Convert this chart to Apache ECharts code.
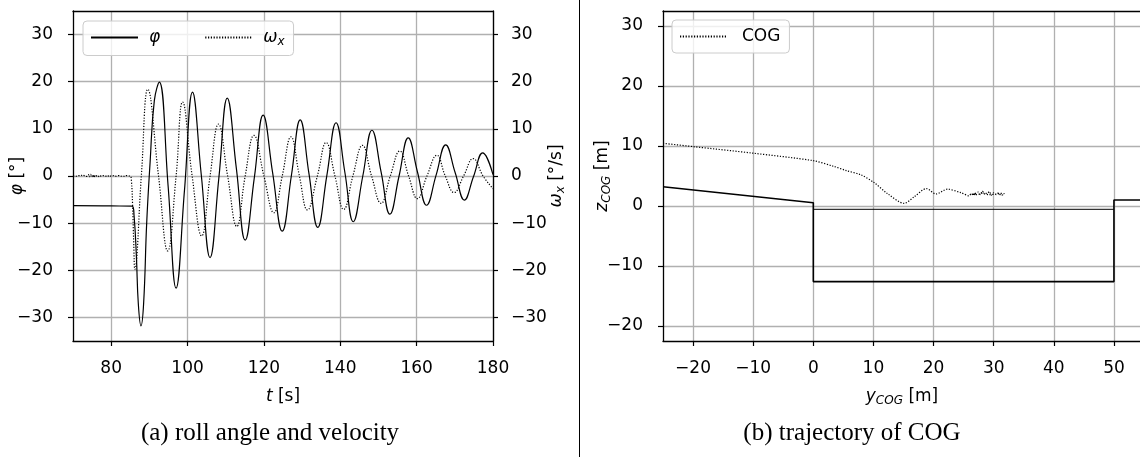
<!DOCTYPE html>
<html><head><meta charset="utf-8">
<script src="https://cdn.jsdelivr.net/npm/echarts@6/dist/echarts.min.js"></script>
<style>html,body{margin:0;padding:0;background:#fff}#c{width:1140px;height:457px}</style>
</head><body><div id="c"></div>
<script>
// ---- left panel: roll angle phi and roll velocity omega_x over time ----
const phiT = [70, 80, 85.5, 86.0, 86.6, 87.1, 87.8, 88.5, 89.3, 90.2, 91.3, 92.6, 94.9, 97.0, 99.2, 101.3, 103.6, 105.9, 108.2, 110.4, 112.8, 115.1, 117.5, 119.8, 122.3, 124.8, 127.2, 129.5, 131.8, 134.1, 136.5, 138.9, 141.2, 143.4, 145.9, 148.3, 150.7, 153.0, 155.4, 157.8, 160.2, 162.6, 165.1, 167.6, 170.1, 172.5, 174.9, 177.3, 180];
const phiV = [-6.3, -6.35, -6.4, -8.5, -17, -27, -31.8, -27, -10, 3, 16, 19.9, -2, -23.8, -3, 17.8, 0.2, -17.3, -0.4, 16.5, 1.5, -13.6, -0.3, 12.9, 0.6, -11.7, 0.1, 11.9, 0.5, -10.9, 0.2, 11.3, 0.8, -9.7, 0, 9.7, 0.8, -8.1, 0, 8.1, 0.9, -6.2, 0.2, 6.6, 0.7, -5.1, -0.1, 4.9, 0.3];

const omegaT = [70, 70.5, 71, 71.5, 72, 72.5, 73, 73.5, 74, 74.3, 74.6, 74.9, 75.2, 75.5, 75.8, 76.1, 76.5, 77, 77.5, 78, 78.5, 79, 79.5, 80, 80.5, 81, 81.5, 82, 82.5, 83, 83.5, 84, 84.5, 85.0, 85.3, 85.6, 85.9, 86.2, 87.9, 89.6, 92.4, 94.8, 97.0, 98.7, 101.2, 103.7, 105.9, 108.1, 110.5, 112.9, 115.1, 117.4, 120.0, 122.6, 124.8, 127.1, 129.3, 131.4, 134.0, 136.3, 138.6, 140.9, 143.3, 145.8, 148.2, 150.7, 153.1, 155.6, 157.9, 160.2, 162.7, 165.3, 167.5, 169.8, 172.3, 174.8, 177.4, 180];
const omegaV = [0.0, 0.05, -0.05, 0.1, 0.0, 0.25, 0.05, -0.1, 0.3, -0.2, 0.35, -0.15, 0.25, -0.3, 0.2, 0.05, -0.2, 0.15, -0.1, 0.1, -0.05, 0.15, -0.15, 0.05, 0.1, -0.1, 0.05, 0.1, -0.05, 0.05, -0.1, 0.1, 0.0, 0.0, -1.0, -6, -14, -19.8, 0, 18.4, 0, -15.9, 0, 15.7, 0, -12.7, 0, 11.0, 0, -10.7, 0, 8.6, 0, -7.8, 0, 8.3, 0, -7.2, 0, 7.1, 0, -7.1, 0, 6.5, 0, -5.8, 0, 5.3, 0, -4.8, 0, 4.4, 0, -3.5, 0, 3.7, 0, -2.7];

const tTicks = [80, 100, 120, 140, 160, 180];
const angleTicks = [-30, -20, -10, 0, 10, 20, 30];

// ---- right panel: trajectory of COG and basin outline ----
const cogY = [-25, -20, -10, 0, 3.4, 5.5, 7.9, 10.1, 12.3, 15.1, 16.8, 18.8, 20.4, 22.3, 24.6, 25.9, 26.3, 26.6, 27.0, 26.8, 27.4, 27.8, 28.1, 28.5, 28.3, 28.9, 29.3, 29.6, 30.0, 30.4, 30.8, 31.2, 31.8, 31.3, 30.5, 29.2, 28.0, 27.2, 26.4];
const cogZ = [10.45, 9.9, 8.8, 7.55, 6.6, 5.9, 5.2, 3.9, 2.1, 0.45, 1.55, 2.9, 2.0, 2.8, 2.2, 1.7, 2.1, 1.8, 2.2, 1.9, 2.3, 1.9, 2.5, 1.9, 2.2, 2.1, 2.4, 1.8, 2.2, 1.9, 2.2, 1.8, 2.0, 2.1, 2.0, 1.9, 2.1, 1.9, 2.0];
const wallY = [-25, 0, 0, 50, 50, 60];
const wallZ = [3.2, 0.55, -12.6, -12.6, 1.0, 1.0];
const waterY = [0, 50];
const waterZ = [-0.55, -0.55];
const yTicks = [-20, -10, 0, 10, 20, 30, 40, 50];
const zTicks = [-20, -10, 0, 10, 20, 30];

const F = '"DejaVu Sans"';
const FS = 17;
const zip = (a, b) => a.map((v, i) => [v, b[i]]);
const fmt = v => (v < 0 ? '\u2212' + Math.abs(v) : String(v));
const rich = {
  i: {fontFamily: F, fontSize: FS, fontStyle: 'italic', color: '#000'},
  n: {fontFamily: F, fontSize: FS, color: '#000'},
  s: {fontFamily: F, fontSize: 12, fontStyle: 'italic', color: '#000', padding: [8, 0, 0, 0]}
};

function axis(o, ticks) {
  return Object.assign({
    type: 'value',
    nameMoveOverlap: false,
    axisLine: {show: true, onZero: false, lineStyle: {color: '#000', width: 1.3}},
    axisTick: {show: true, inside: false, length: 5, customValues: ticks, lineStyle: {color: '#000', width: 1.2}},
    axisLabel: {show: true, color: '#000', fontFamily: F, fontSize: FS, formatter: fmt, customValues: ticks, margin: 10},
    splitLine: {show: true, lineStyle: {color: '#b0b0b0', width: 1.3}},
    nameTextStyle: {fontFamily: F, fontSize: FS, color: '#000', rich: rich}
  }, o);
}
function spine(o) {
  return Object.assign({
    type: 'value', position: 'top',
    axisLine: {show: true, onZero: false, lineStyle: {color: '#000', width: 1.3}},
    axisTick: {show: false}, axisLabel: {show: false}, splitLine: {show: false}
  }, o);
}
function lbl(ticks, margin) {
  return {color: '#000', fontFamily: F, fontSize: FS, formatter: fmt, customValues: ticks, margin: margin};
}

const dotted = [1.2, 1.6];
const legendCommon = {
  orient: 'horizontal', itemWidth: 47, itemHeight: 2,
  backgroundColor: 'rgba(255,255,255,0.8)', borderColor: '#cccccc', borderWidth: 1, borderRadius: 4,
  itemStyle: {opacity: 0}
};

const option = {
  animation: false,
  backgroundColor: '#fff',
  grid: [
    {left: 73, top: 11, width: 420, height: 330, containLabel: false, outerBoundsMode: 'none'},
    {left: 663, top: 11, width: 478, height: 330, containLabel: false, outerBoundsMode: 'none'}
  ],
  xAxis: [
    axis({gridIndex: 0, min: 70, max: 180, name: '{i|t}{n| [s]}', nameLocation: 'middle', nameGap: 47,
      axisLabel: lbl(tTicks, 19)}, tTicks),
    spine({gridIndex: 0, min: 70, max: 180}),
    axis({gridIndex: 1, min: -25, max: 54.5, name: '{i|y}{s|COG}{n| [m]}', nameLocation: 'middle', nameGap: 46,
      axisLabel: lbl(yTicks, 19)}, yTicks),
    spine({gridIndex: 1, min: -25, max: 54.5})
  ],
  yAxis: [
    axis({gridIndex: 0, min: -35, max: 35, position: 'left', name: '{i|φ}{n| [°]}', nameLocation: 'middle', nameRotate: 90, nameGap: 47,
      axisLabel: lbl(angleTicks, 20)}, angleTicks),
    axis({gridIndex: 0, min: -35, max: 35, position: 'right', name: '{i|ω}{s|x}{n| [°/s]}', nameLocation: 'middle', nameRotate: 90, nameGap: 54,
      splitLine: {show: false}, axisLabel: lbl(angleTicks, 18)}, angleTicks),
    axis({gridIndex: 1, min: -22.5, max: 32.5, position: 'left', name: '{i|z}{s|COG}{n| [m]}', nameLocation: 'middle', nameRotate: 90, nameGap: 50,
      axisLabel: lbl(zTicks, 20)}, zTicks)
  ],
  legend: [
    Object.assign({}, legendCommon, {
      data: ['phi', 'omega'], left: 83, top: 21, itemGap: 44,
      padding: [8, 9, 8, 7],
      formatter: n => n === 'phi' ? '{i|φ}' : '{i|ω}{s|x}',
      textStyle: {fontFamily: F, fontSize: FS, color: '#000', padding: [0, 0, 0, 6], rich: rich}
    }),
    Object.assign({}, legendCommon, {
      data: ['COG'], left: 672, top: 20,
      padding: [8, 9, 8, 7],
      textStyle: {fontFamily: F, fontSize: FS, color: '#000', padding: [0, 0, 0, 10]}
    })
  ],
  series: [
    {name: 'phi', type: 'line', xAxisIndex: 0, yAxisIndex: 0, data: zip(phiT, phiV), symbol: 'none', smooth: 0.45,
      lineStyle: {color: '#000', width: 1.2, type: 'solid'}, itemStyle: {color: '#000'}, clip: true},
    {name: 'omega', type: 'line', xAxisIndex: 0, yAxisIndex: 1, data: zip(omegaT, omegaV), symbol: 'none', smooth: 0.45,
      lineStyle: {color: '#000', width: 1.2, type: dotted}, itemStyle: {color: '#000'}, clip: true},
    {name: 'wall', type: 'line', xAxisIndex: 2, yAxisIndex: 2, data: zip(wallY, wallZ), symbol: 'none',
      lineStyle: {color: '#000', width: 1.6}, clip: true},
    {name: 'water', type: 'line', xAxisIndex: 2, yAxisIndex: 2, data: zip(waterY, waterZ), symbol: 'none',
      lineStyle: {color: '#000', width: 1}, clip: true},
    {name: 'COG', type: 'line', xAxisIndex: 2, yAxisIndex: 2, data: zip(cogY, cogZ), symbol: 'none', smooth: 0.3,
      lineStyle: {color: '#000', width: 1.2, type: dotted}, itemStyle: {color: '#000'}, clip: true}
  ],
  graphic: [
    {type: 'line', shape: {x1: 579.5, y1: 0, x2: 579.5, y2: 457}, style: {stroke: '#000', lineWidth: 1}},
    {type: 'text', x: 270, y: 433, style: {text: '(a) roll angle and velocity', font: '25px "Liberation Serif"', align: 'center', verticalAlign: 'middle', fill: '#000'}},
    {type: 'text', x: 852, y: 433, style: {text: '(b) trajectory of COG', font: '25px "Liberation Serif"', align: 'center', verticalAlign: 'middle', fill: '#000'}}
  ]
};
const chart = echarts.init(document.getElementById('c'), null, {renderer: 'canvas'});
chart.setOption(option);
</script>
</body></html>
